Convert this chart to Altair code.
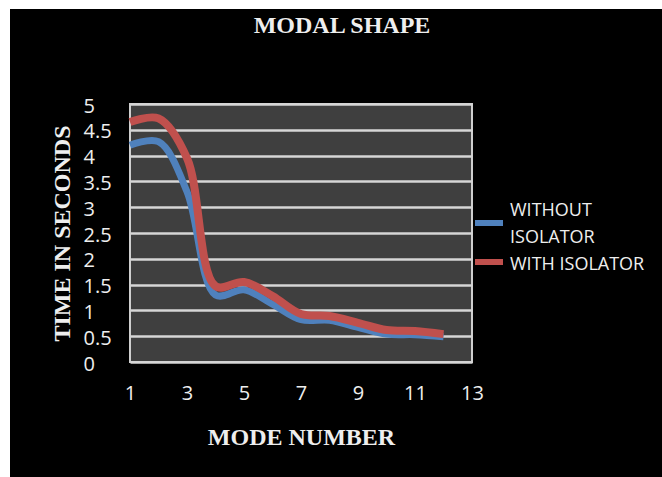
import altair as alt
import pandas as pd

# ---- data ----
modes = [1, 2, 3, 4, 5, 6, 7, 8, 9, 10, 11, 12]
without_isolator = [4.20, 4.27, 3.30, 1.30, 1.40, 1.12, 0.82, 0.81, 0.67, 0.54, 0.53, 0.49]
with_isolator = [4.65, 4.72, 3.95, 1.47, 1.55, 1.28, 0.93, 0.89, 0.76, 0.62, 0.60, 0.54]
series_names = ["WITHOUT ISOLATOR", "WITH ISOLATOR"]
series_colors = ["#4F81BD", "#C0504D"]
y_ticks = [0, 0.5, 1, 1.5, 2, 2.5, 3, 3.5, 4, 4.5, 5]
x_ticks = [1, 3, 5, 7, 9, 11, 13]

W, H = 342, 258
TXT = "#eeeeee"

df_wo = pd.DataFrame({"mode": modes, "time": without_isolator, "series": series_names[0]})
df_w = pd.DataFrame({"mode": modes, "time": with_isolator, "series": series_names[1]})
one = pd.DataFrame({"a": [0]})

xscale = alt.Scale(domain=[1, 13], nice=False, zero=False)
yscale = alt.Scale(domain=[0, 5], nice=False)
cscale = alt.Scale(domain=series_names, range=series_colors)

# white page margin round the black picture (top and left)
strip_top = alt.Chart(one).mark_rect(color="white").encode(
    x=alt.value(-130), x2=alt.value(532), y=alt.value(-104), y2=alt.value(-95)
)
strip_left = alt.Chart(one).mark_rect(color="white").encode(
    x=alt.value(-130), x2=alt.value(-120), y=alt.value(-104), y2=alt.value(373)
)

xaxis = alt.Axis(
    values=x_ticks, grid=False, domain=False, ticks=False, labelFlush=False,
    labelOverlap=False, labelPadding=21, labelFont="Open Sans", labelFontSize=20,
    labelColor=TXT,
    title="MODE NUMBER", titleFont="Liberation Serif", titleFontSize=24,
    titleFontWeight="bold", titleColor=TXT, titleY=75, titleBaseline="middle",
)
yaxis = alt.Axis(
    values=y_ticks, tickCount=11, format="~g", grid=True, gridColor="#d6d6d6",
    gridWidth=2.5, domain=False, ticks=False, labelOverlap=False,
    labelAlign="left", labelPadding=47, labelBaseline="middle", labelOffset=2,
    labelFont="Open Sans", labelFontSize=20, labelColor=TXT,
    title="TIME IN SECONDS", titleFont="Liberation Serif", titleFontSize=24,
    titleFontWeight="bold", titleColor=TXT, titleX=-68, titleY=H / 2,
    titleBaseline="middle",
)

line_wo = alt.Chart(df_wo).mark_line(strokeWidth=7, interpolate="catmull-rom").encode(
    x=alt.X("mode:Q", scale=xscale, axis=xaxis),
    y=alt.Y("time:Q", scale=yscale, axis=yaxis),
    color=alt.Color("series:N", scale=cscale, legend=None),
)
line_w = alt.Chart(df_w).mark_line(strokeWidth=8, interpolate="catmull-rom").encode(
    x=alt.X("mode:Q", scale=xscale, axis=xaxis),
    y=alt.Y("time:Q", scale=yscale, axis=yaxis),
    color=alt.Color("series:N", scale=cscale, legend=None),
)

# legend (Excel style, label wrapped on two lines for the first entry)
leg_blue = alt.Chart(one).mark_rule(color=series_colors[0], strokeWidth=6).encode(
    x=alt.value(345), x2=alt.value(373), y=alt.value(119)
)
leg_red = alt.Chart(one).mark_rule(color=series_colors[1], strokeWidth=6).encode(
    x=alt.value(345), x2=alt.value(373), y=alt.value(158)
)
leg_txt_style = dict(align="left", baseline="middle", font="Open Sans", fontSize=18, color=TXT)
leg_t1 = alt.Chart(one).mark_text(**leg_txt_style).encode(
    x=alt.value(380), y=alt.value(107), text=alt.value("WITHOUT")
)
leg_t2 = alt.Chart(one).mark_text(**leg_txt_style).encode(
    x=alt.value(380), y=alt.value(134), text=alt.value("ISOLATOR")
)
leg_t3 = alt.Chart(one).mark_text(**leg_txt_style).encode(
    x=alt.value(380), y=alt.value(161), text=alt.value(series_names[1])
)

chart = alt.layer(
    strip_top, strip_left, line_wo, line_w, leg_blue, leg_red, leg_t1, leg_t2, leg_t3
).properties(
    width=W, height=H,
    title=alt.TitleParams(
        "MODAL SHAPE", font="Liberation Serif", fontSize=24, fontWeight="bold",
        color=TXT, anchor="middle", dx=41, offset=-38,
    ),
    background="black",
    padding=0,
).configure_view(fill="#3f3f3f", stroke="#cfcfcf", strokeWidth=2)

chart.save("out.html", embed_options={"renderer": "svg", "actions": False})
